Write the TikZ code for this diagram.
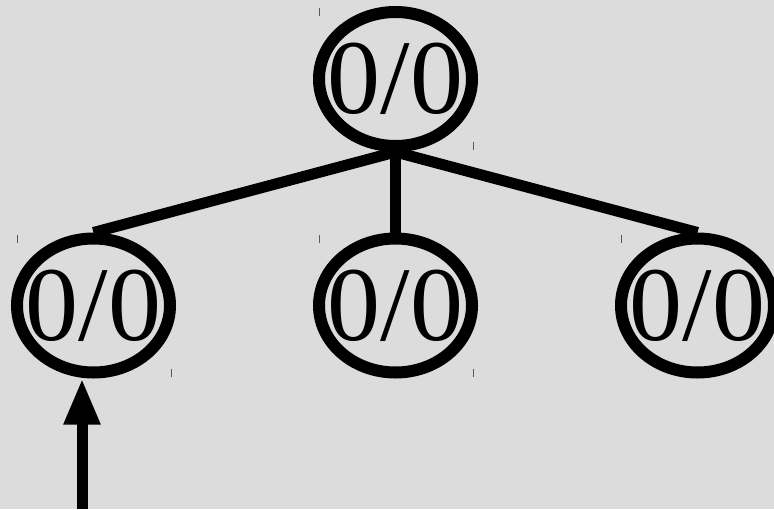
\documentclass[tikz,border=0pt]{standalone}
\usepackage{fontspec}
\setmainfont{Liberation Serif}
\usetikzlibrary{shapes.geometric,arrows.meta}
\definecolor{bg}{RGB}{220,220,220}
\definecolor{tickgray}{RGB}{90,90,90}

\begin{document}
\begin{tikzpicture}[x=1pt, y=-1pt,
  vertex/.style = {ellipse, draw, line width=12pt, minimum width=153pt,
    minimum height=134pt, inner sep=0pt,
    label={[font=\fontsize{106}{110}\selectfont, inner sep=0pt]center:0/0}},
  edge/.style = {line width=11pt},
  tickmark/.style = {tickgray, line width=1pt}]
  \fill[bg] (0,0) rectangle (774,509);
  \useasboundingbox (0,0) rectangle (774,509);

  \node[vertex] (root) at (395.5,79) {};
  \node[vertex] (left) at (93.5,305.5) {};
  \node[vertex] (mid) at (395.5,305.5) {};
  \node[vertex] (right) at (697.5,305.5) {};

  \draw[edge] (root.south) -- (left.north);
  \draw[edge] (root.south) -- (mid.north);
  \draw[edge] (root.south) -- (right.north);

  \coordinate (in) at (82,509);
  \draw[line width=11pt, -{Triangle[length=46pt, width=34pt]}] (in) -- (in |- left.south);

  \foreach \n in {root,left,mid,right} {
    \draw[tickmark] ([shift={(-76,-71)}]\n.center) -- +(0,8);
    \draw[tickmark] ([shift={(77.5,63)}]\n.center) -- +(0,8);
  }
\end{tikzpicture}
\end{document}
